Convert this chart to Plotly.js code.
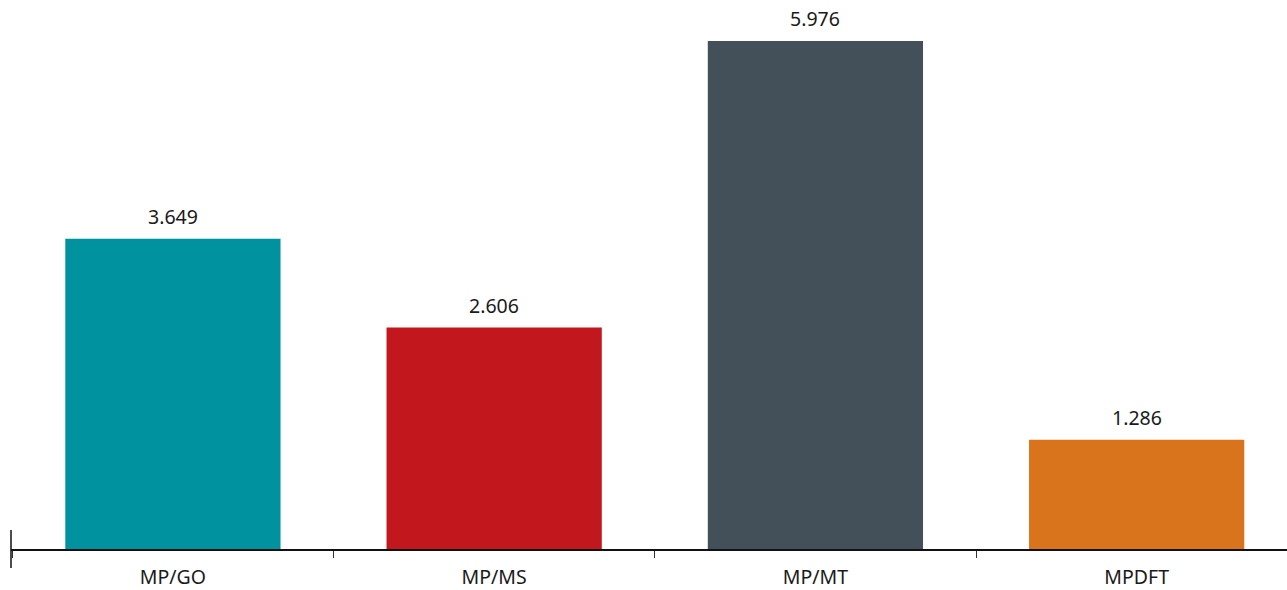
<!DOCTYPE html>
<html>
<head>
<meta charset="utf-8">
<script src="https://cdn.plot.ly/plotly-3.0.1.min.js"></script>
<style>html,body{margin:0;padding:0;background:#fff;}#chart{width:1287px;height:590px;}</style>
</head>
<body>
<div id="chart"></div>
<script>
const categories = ["MP/GO", "MP/MS", "MP/MT", "MPDFT"];
const values = [3.649, 2.606, 5.976, 1.286];
const barColors = ["#00929F", "#C2171D", "#434F59", "#D9741C"];
const valueLabels = ["3.649", "2.606", "5.976", "1.286"];

const FONT = "'Noto Sans', 'DejaVu Sans', sans-serif";

const trace = {
  type: "bar",
  x: categories,
  y: values,
  marker: {color: barColors},
  width: 0.67,
  hoverinfo: "none"
};

const annotations = categories.map((c, i) => ({
  x: c, y: values[i], xref: "x", yref: "y",
  text: valueLabels[i], showarrow: false,
  yanchor: "bottom", yshift: 7,
  font: {family: FONT, size: 19.5, color: "#1a1a1a"}
}));

const layout = {
  width: 1287, height: 590,
  margin: {l: 11, r: 0, t: 0, b: 41},
  paper_bgcolor: "#ffffff",
  plot_bgcolor: "#ffffff",
  showlegend: false,
  xaxis: {
    type: "category",
    range: [-0.504, 3.468],
    showline: true, linecolor: "#111", linewidth: 1.5,
    ticks: "outside", tickson: "boundaries", ticklen: 7, tickcolor: "#333", tickwidth: 1,
    showgrid: false, zeroline: false,
    tickfont: {family: FONT, size: 19.5, color: "#1a1a1a"},
    ticklabelstandoff: 10
  },
  yaxis: {
    range: [0, 6.459],
    visible: false, showgrid: false, zeroline: false
  },
  annotations: annotations,
  shapes: [{
    type: "line", xref: "paper", yref: "paper",
    x0: 0, x1: 0, y0: -0.0346, y1: 0.0346,
    line: {color: "#111", width: 1.5}
  }]
};

Plotly.newPlot("chart", [trace], layout, {displayModeBar: false, staticPlot: true});
</script>
</body>
</html>
